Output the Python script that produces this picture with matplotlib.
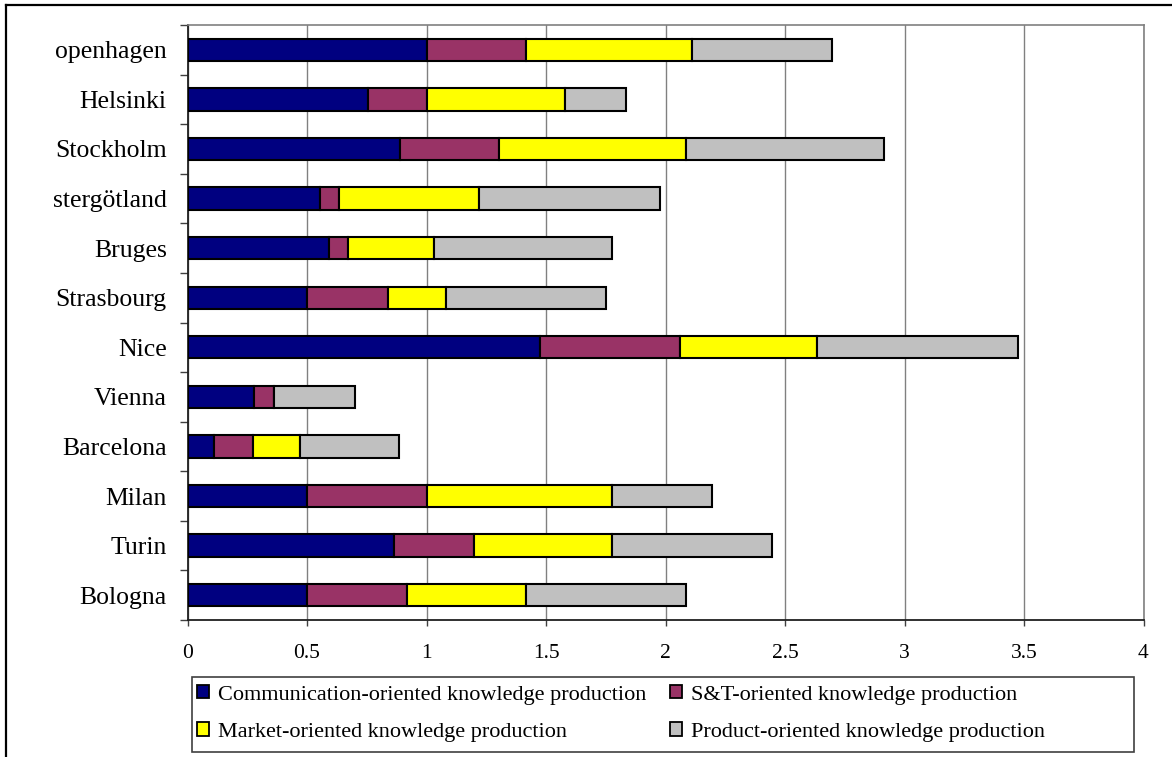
import numpy as np
import matplotlib
matplotlib.use("Agg")
import matplotlib.pyplot as plt
from matplotlib.patches import Patch, Rectangle
from matplotlib.lines import Line2D

plt.rcParams['font.family'] = ['Liberation Serif', 'DejaVu Serif']

# Regions, listed top to bottom
cities = ["openhagen", "Helsinki", "Stockholm", "stergötland", "Bruges",
          "Strasbourg", "Nice", "Vienna", "Barcelona", "Milan", "Turin", "Bologna"]

communication = [1.00, 0.755, 0.89, 0.555, 0.59, 0.50, 1.475, 0.28, 0.11, 0.50, 0.865, 0.50]
s_and_t       = [0.415, 0.245, 0.415, 0.08, 0.08, 0.34, 0.585, 0.08, 0.165, 0.50, 0.335, 0.42]
market        = [0.695, 0.58, 0.78, 0.585, 0.36, 0.24, 0.575, 0.0, 0.195, 0.775, 0.575, 0.495]
product       = [0.585, 0.255, 0.83, 0.755, 0.745, 0.67, 0.84, 0.34, 0.415, 0.42, 0.67, 0.67]

series_names = ["Communication-oriented knowledge production",
                "S&T-oriented knowledge production",
                "Market-oriented knowledge production",
                "Product-oriented knowledge production"]
series_colors = ["#000080", "#993366", "#FFFF00", "#C0C0C0"]

x_ticks = [0, 0.5, 1, 1.5, 2, 2.5, 3, 3.5, 4]

W, H = 1172, 757
fig = plt.figure(figsize=(W / 100, H / 100), dpi=100)

# outer chart frame (open at right and bottom)
fig.add_artist(Line2D([6 / W, 1.0], [1 - 5 / H, 1 - 5 / H], color="black", lw=1.6,
                      transform=fig.transFigure))
fig.add_artist(Line2D([6 / W, 6 / W], [0.0, 1 - 5 / H], color="black", lw=1.6,
                      transform=fig.transFigure))

ax = fig.add_axes([187.5 / W, 1 - 620 / H, (1143.5 - 187.5) / W, (620 - 25) / H])

y = np.arange(len(cities))
left = np.zeros(len(cities))
for vals, name, col in zip([communication, s_and_t, market, product], series_names, series_colors):
    vals = np.asarray(vals)
    ax.barh(y, vals, left=left, height=0.45, color=col, edgecolor="black",
            linewidth=1.5, label=name, zorder=3)
    left = left + vals

ax.set_xlim(0, 4)
ax.set_ylim(len(cities) - 0.5, -0.5)

ax.set_xticks(x_ticks)
ax.set_xticklabels([f"{v:g}" for v in x_ticks], fontsize=15.5)
ax.tick_params(axis="x", direction="out", length=4, width=1, color="#404040", pad=13)
ax.grid(axis="x", color="#808080", linewidth=1, zorder=0)
ax.grid(axis="y", visible=False)

# tick marks on category boundaries, labels at category centres
ax.set_yticks(np.arange(-0.5, len(cities), 1.0))
ax.set_yticklabels([])
ax.tick_params(axis="y", which="major", direction="out", length=6, width=1, color="#404040")
ax.set_yticks(y, minor=True)
ax.set_yticklabels(cities, minor=True, fontsize=18.5)
ax.tick_params(axis="y", which="minor", length=0, pad=15)

for s in ("top", "right"):
    ax.spines[s].set_color("#808080")
    ax.spines[s].set_linewidth(1.2)
for s in ("left", "bottom"):
    ax.spines[s].set_color("#202020")
    ax.spines[s].set_linewidth(1.3)

# legend box
fig.add_artist(Rectangle((191.7 / W, 1 - 752 / H), (1134 - 191.7) / W, (752 - 677) / H,
                         transform=fig.transFigure, fill=False, edgecolor="#404040", lw=1.2))

handles = [Patch(facecolor=c, edgecolor="black", linewidth=1.3) for c in series_colors]
order = [0, 2, 1, 3]
fig.legend([handles[i] for i in order], [series_names[i] for i in order],
           loc="upper left", bbox_to_anchor=(197 / W, 1 - 685 / H), bbox_transform=fig.transFigure,
           ncol=2, frameon=False, fontsize=16, borderpad=0, borderaxespad=0,
           handlelength=0.55, handleheight=0.55, handletextpad=0.4,
           columnspacing=1.05, labelspacing=0.8)

fig.savefig("out.png", dpi=100)
